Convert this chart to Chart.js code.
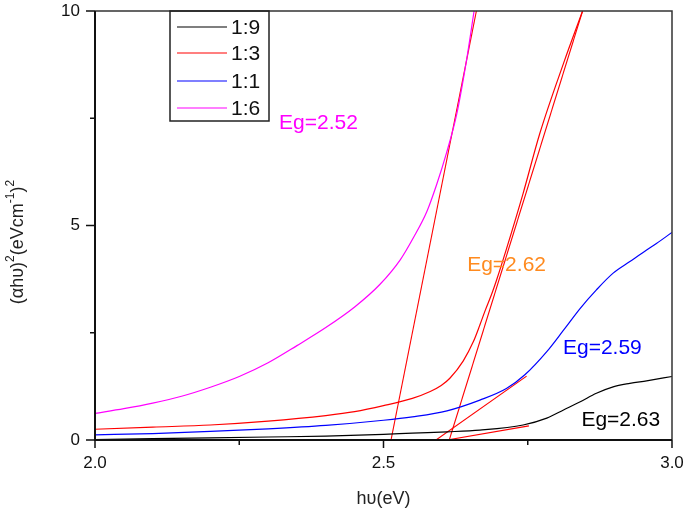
<!DOCTYPE html>
<html>
<head>
<meta charset="utf-8">
<script src="https://cdn.jsdelivr.net/npm/chart.js@4.4.0/dist/chart.umd.min.js"></script>
<style>
	html, body { margin: 0; padding: 0; background: #fff; }
	#wrap { width: 685px; height: 513px; position: relative; }
</style>
</head>
<body>
<div id="wrap"><canvas id="myChart"></canvas></div>
<script>
const FONT = 'Arial, "Liberation Sans", sans-serif';

// sample labels
const seriesNames = ['1:9', '1:3', '1:1', '1:6'];
const seriesColors = ['#000000', '#ff0000', '#0000ff', '#ff00ff'];

// hv (eV) and (ahv)^2
const hv19 = [2.0, 2.1, 2.2, 2.3, 2.4, 2.5, 2.55, 2.61, 2.667, 2.742, 2.783, 2.812, 2.841, 2.869, 2.898, 2.927, 2.956, 3.0];
const ah19 = [0.01, 0.03, 0.05, 0.07, 0.09, 0.13, 0.16, 0.19, 0.23, 0.35, 0.51, 0.70, 0.89, 1.09, 1.24, 1.32, 1.38, 1.48];

const hv13 = [2.0, 2.1, 2.2, 2.3, 2.4, 2.45, 2.5, 2.55, 2.581, 2.6, 2.615, 2.638, 2.656, 2.667, 2.676, 2.688, 2.696, 2.713, 2.742, 2.771, 2.812, 2.845];
const ah13 = [0.25, 0.30, 0.35, 0.44, 0.57, 0.66, 0.80, 0.97, 1.13, 1.27, 1.44, 1.84, 2.30, 2.68, 3.01, 3.42, 3.73, 4.45, 5.75, 7.15, 8.78, 10.0];

const hv11 = [2.0, 2.1, 2.2, 2.3, 2.4, 2.5, 2.55, 2.61, 2.667, 2.713, 2.745, 2.783, 2.812, 2.841, 2.869, 2.898, 2.927, 2.956, 2.973, 3.0];
const ah11 = [0.12, 0.15, 0.20, 0.26, 0.34, 0.46, 0.54, 0.68, 0.93, 1.20, 1.52, 2.06, 2.56, 3.07, 3.50, 3.89, 4.16, 4.43, 4.58, 4.84];

const hv16 = [2.0, 2.05, 2.1, 2.15, 2.2, 2.25, 2.3, 2.35, 2.4, 2.45, 2.494, 2.529, 2.552, 2.575, 2.592, 2.609, 2.627, 2.644, 2.657];
const ah16 = [0.62, 0.73, 0.86, 1.02, 1.23, 1.48, 1.80, 2.20, 2.62, 3.10, 3.63, 4.20, 4.72, 5.32, 5.95, 6.68, 7.60, 8.86, 10.0];

// linear fits (red), start and end points
const fitX = [[2.513, 2.661], [2.614, 2.845], [2.591, 2.748], [2.61, 2.752]];
const fitY = [[0, 10], [0, 10], [0, 1.49], [0, 0.33]];

// band gap labels
const egText = ['Eg=2.52', 'Eg=2.62', 'Eg=2.59', 'Eg=2.63'];
const egX = [2.319, 2.645, 2.811, 2.843];
const egY = [7.39, 4.08, 2.14, 0.47];
const egColors = ['#ff00ff', '#ff8a1e', '#0000ff', '#000000'];

const xTicks = [2.0, 2.5, 3.0];
const xMinor = [2.25, 2.75];
const yTicks = [0, 5, 10];
const yMinor = [2.5, 7.5];

function pts(xs, ys) {
	return xs.map((x, i) => ({ x: x, y: ys[i] }));
}

const curves = [pts(hv19, ah19), pts(hv13, ah13), pts(hv11, ah11), pts(hv16, ah16)];
const datasets = curves.map((d, i) => ({
	label: seriesNames[i],
	data: d,
	borderColor: seriesColors[i],
	borderWidth: 1.2,
	pointRadius: 0,
	cubicInterpolationMode: 'monotone',
	fill: false
}));
fitX.forEach((xs, i) => {
	datasets.push({
		label: 'fit' + i,
		data: pts(xs, fitY[i]),
		borderColor: '#ff0000',
		borderWidth: 1.1,
		pointRadius: 0,
		fill: false
	});
});

const decor = {
	id: 'decor',
	afterDatasetsDraw(chart) {
		const ctx = chart.ctx;
		const a = chart.chartArea;
		const xs = chart.scales.x, ys = chart.scales.y;
		ctx.save();

		// band gap labels
		ctx.font = '21px ' + FONT;
		ctx.textAlign = 'left';
		ctx.textBaseline = 'middle';
		egText.forEach((t, i) => {
			ctx.fillStyle = egColors[i];
			ctx.fillText(t, xs.getPixelForValue(egX[i]), ys.getPixelForValue(egY[i]));
		});

		// frame
		ctx.strokeStyle = '#333';
		ctx.lineWidth = 1.5;
		ctx.beginPath();
		ctx.moveTo(a.left, a.top);
		ctx.lineTo(a.right, a.top);
		ctx.lineTo(a.right, a.bottom);
		ctx.stroke();
		ctx.strokeStyle = '#111';
		ctx.lineWidth = 2;
		ctx.beginPath();
		ctx.moveTo(a.left, a.top);
		ctx.lineTo(a.left, a.bottom);
		ctx.lineTo(a.right, a.bottom);
		ctx.stroke();

		// ticks
		ctx.lineWidth = 1.5;
		ctx.beginPath();
		xTicks.forEach(v => { const p = xs.getPixelForValue(v); ctx.moveTo(p, a.bottom); ctx.lineTo(p, a.bottom + 8); });
		xMinor.forEach(v => { const p = xs.getPixelForValue(v); ctx.moveTo(p, a.bottom); ctx.lineTo(p, a.bottom + 5); });
		yTicks.forEach(v => { const p = ys.getPixelForValue(v); ctx.moveTo(a.left, p); ctx.lineTo(a.left - 9, p); });
		yMinor.forEach(v => { const p = ys.getPixelForValue(v); ctx.moveTo(a.left, p); ctx.lineTo(a.left - 5, p); });
		ctx.stroke();

		// legend
		const lx = a.left + 75, ly = a.top;
		ctx.strokeStyle = '#222';
		ctx.lineWidth = 1.5;
		ctx.strokeRect(lx, ly, 99, 110);
		ctx.font = '21px ' + FONT;
		ctx.fillStyle = '#111';
		const rows = [16, 42, 70, 97];
		seriesNames.forEach((n, i) => {
			ctx.strokeStyle = seriesColors[i];
			ctx.lineWidth = 1.2;
			ctx.beginPath();
			ctx.moveTo(lx + 7, ly + rows[i]);
			ctx.lineTo(lx + 57, ly + rows[i]);
			ctx.stroke();
			ctx.fillText(n, lx + 61, ly + rows[i] + 1);
		});

		// axis titles
		ctx.fillStyle = '#222';
		ctx.font = '18px ' + FONT;
		ctx.textAlign = 'center';
		ctx.fillText('h\u03c5(eV)', (a.left + a.right) / 2, 499);

		const parts = [['(\u03b1h\u03c5)', 0], ['2', 1], ['(eVcm', 0], ['-1', 1], [')', 0], ['2', 1]];
		const big = '18px ' + FONT, small = '12px ' + FONT;
		let total = 0;
		parts.forEach(p => { ctx.font = p[1] ? small : big; total += ctx.measureText(p[0]).width; });
		ctx.translate(18, 242);
		ctx.rotate(-Math.PI / 2);
		ctx.textAlign = 'left';
		let cx = -total / 2;
		parts.forEach(p => {
			ctx.font = p[1] ? small : big;
			ctx.fillText(p[0], cx, p[1] ? -7 : 0);
			cx += ctx.measureText(p[0]).width;
		});
		ctx.restore();
	}
};

const ctx = document.getElementById('myChart').getContext('2d');
const chart = new Chart(ctx, {
	type: 'line',
	data: { datasets: datasets },
	options: {
		responsive: true,
		maintainAspectRatio: false,
		animation: false,
		layout: { padding: { top: 11, right: 13, left: 0, bottom: 0 } },
		plugins: { legend: { display: false }, tooltip: { enabled: false } },
		scales: {
			x: {
				type: 'linear',
				min: 2, max: 3,
				grid: { display: false },
				border: { display: false },
				ticks: {
					stepSize: 0.5,
					autoSkip: false,
					maxRotation: 0,
					padding: 5,
					color: '#111',
					font: { family: FONT, size: 17 },
					callback: v => v.toFixed(1)
				},
				afterFit: s => {
					s.height = 73;
					s.paddingLeft = 0;
					s.paddingRight = 0;
				}
			},
			y: {
				min: 0, max: 10,
				grid: { display: false },
				border: { display: false },
				ticks: {
					stepSize: 5,
					autoSkip: false,
					padding: 7,
					color: '#111',
					font: { family: FONT, size: 17 },
					callback: v => String(v)
				},
				afterFit: s => {
					s.width = 95;
					s.paddingTop = 0;
					s.paddingBottom = 0;
				}
			}
		}
	},
	plugins: [decor]
});
</script>
</body>
</html>
